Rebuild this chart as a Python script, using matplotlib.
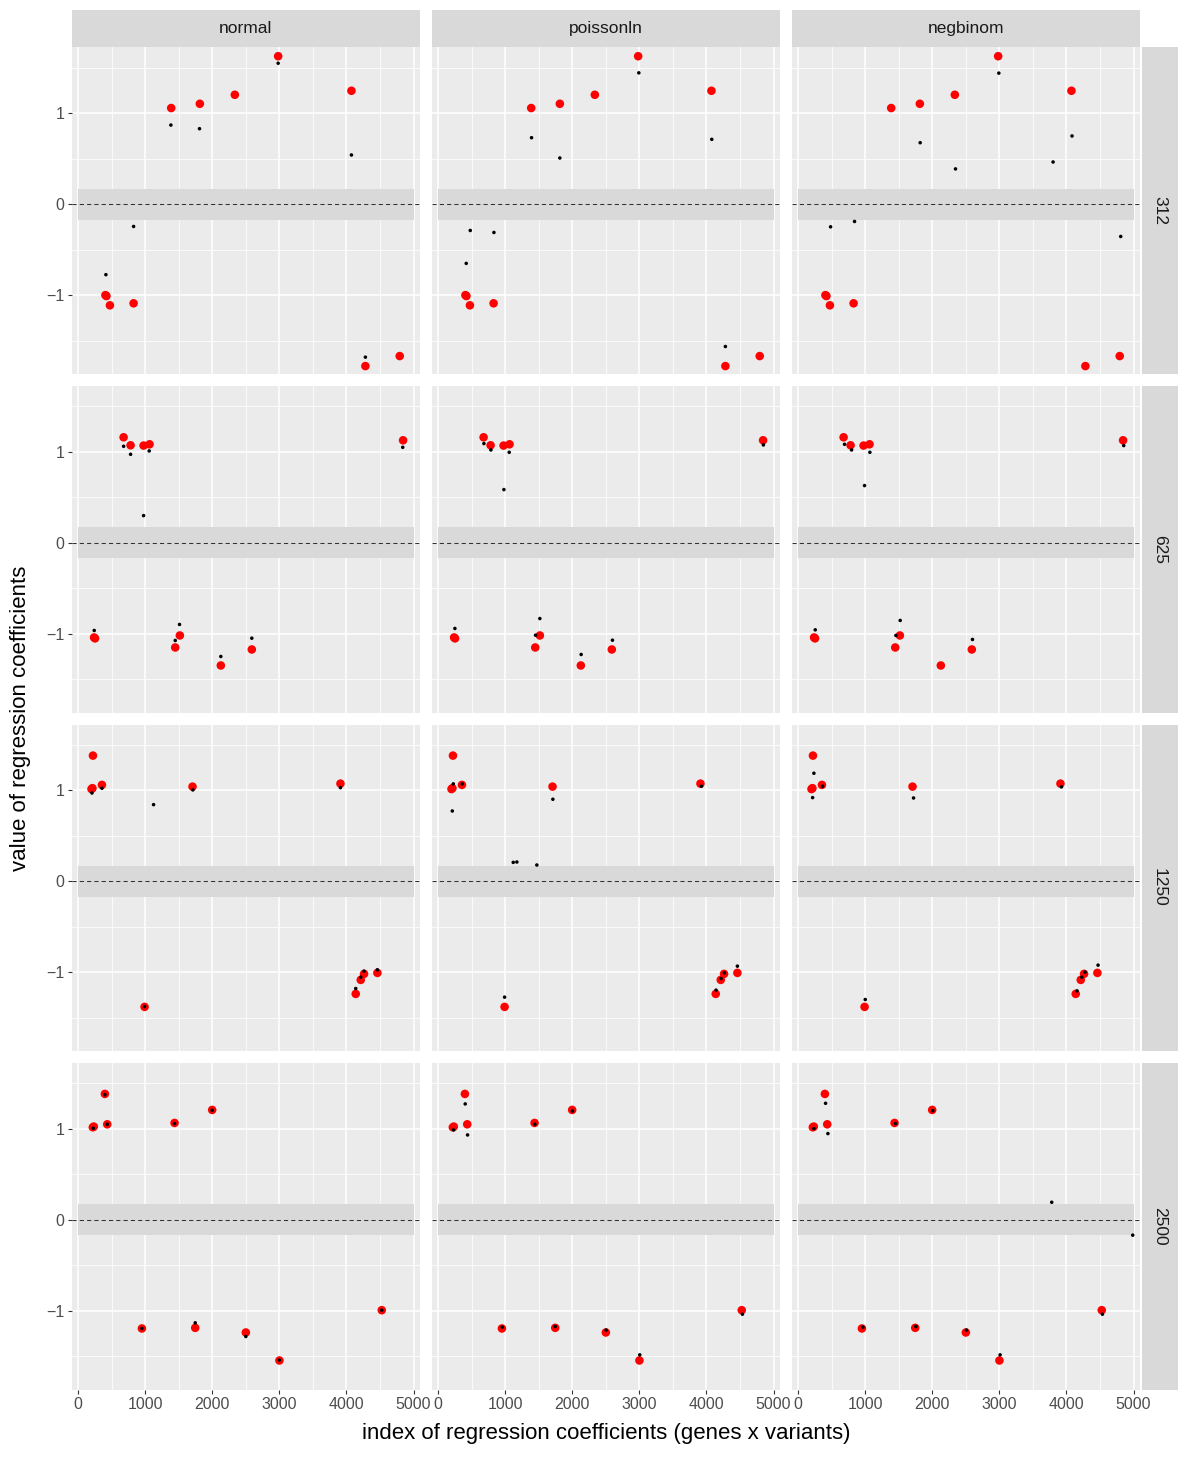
import matplotlib
matplotlib.use("Agg")
import matplotlib.pyplot as plt
from matplotlib.patches import Rectangle

plt.rcParams['font.family'] = ['Liberation Sans', 'DejaVu Sans']

# ---------------- data ----------------
columns = ["normal", "poissonln", "negbinom"]
rows = ["312", "625", "1250", "2500"]

x_ticks = [0, 1000, 2000, 3000, 4000, 5000]
y_ticks = [-1, 0, 1]
band_half_width = 0.17
n_coef = 5000

# true coefficients (red), one set per row
true_x_312 = [2981, 1386, 1813, 2335, 4074, 405, 420, 472, 825, 4282, 4794]
true_y_312 = [1.627, 1.057, 1.104, 1.203, 1.247, -1.000, -1.010, -1.112, -1.090, -1.780, -1.670]
true_x_625 = [676, 780, 974, 1063, 4844, 236, 250, 1515, 1446, 2126, 2588]
true_y_625 = [1.161, 1.073, 1.070, 1.084, 1.128, -1.040, -1.050, -1.018, -1.150, -1.348, -1.172]
true_x_1250 = [219, 197, 211, 353, 1704, 3910, 989, 4138, 4213, 4262, 4461]
true_y_1250 = [1.383, 1.015, 1.025, 1.061, 1.042, 1.075, -1.380, -1.237, -1.083, -1.017, -1.006]
true_x_2500 = [217, 231, 397, 432, 1436, 1997, 949, 1744, 2499, 3000, 4526]
true_y_2500 = [1.018, 1.026, 1.385, 1.051, 1.066, 1.209, -1.194, -1.187, -1.238, -1.546, -0.993]

# estimated coefficients (black), one set per panel
est_x_normal_312 = [2981, 1381, 1808, 4074, 825, 412, 4282]
est_y_normal_312 = [1.550, 0.870, 0.830, 0.541, -0.245, -0.775, -1.682]
est_x_poissonln_312 = [2991, 1391, 4079, 1813, 477, 830, 417, 4282]
est_y_poissonln_312 = [1.444, 0.731, 0.713, 0.508, -0.289, -0.311, -0.651, -1.565]
est_x_negbinom_312 = [2991, 4083, 1818, 3800, 2345, 839, 482, 4809]
est_y_negbinom_312 = [1.441, 0.750, 0.676, 0.464, 0.388, -0.190, -0.249, -0.355]

est_x_normal_625 = [676, 780, 1058, 974, 4839, 238, 1510, 1446, 2126, 2588]
est_y_normal_625 = [1.062, 0.974, 1.011, 0.300, 1.051, -0.963, -0.897, -1.073, -1.249, -1.048]
est_x_poissonln_625 = [681, 785, 1058, 979, 4849, 248, 1515, 1451, 2131, 2598]
est_y_poissonln_625 = [1.092, 1.022, 0.996, 0.586, 1.077, -0.941, -0.832, -1.015, -1.227, -1.070]
est_x_negbinom_625 = [690, 795, 1068, 988, 4854, 253, 1520, 1456, 2598]
est_y_negbinom_625 = [1.084, 1.022, 0.996, 0.630, 1.070, -0.956, -0.853, -1.018, -1.062]

est_x_normal_1250 = [204, 353, 1123, 1709, 3910, 989, 4138, 4213, 4262, 4461]
est_y_normal_1250 = [0.972, 1.024, 0.844, 1.006, 1.031, -1.376, -1.178, -1.053, -0.987, -0.972]
est_x_poissonln_1250 = [224, 358, 209, 1709, 1118, 1172, 1470, 3925, 989, 4143, 4218, 4267, 4461]
est_y_poissonln_1250 = [1.072, 1.072, 0.774, 0.903, 0.209, 0.213, 0.180, 1.046, -1.273, -1.196, -1.068, -1.006, -0.932]
est_x_negbinom_1250 = [233, 214, 363, 1719, 3925, 999, 4158, 4228, 4277, 4471]
est_y_negbinom_1250 = [1.189, 0.921, 1.046, 0.917, 1.039, -1.299, -1.204, -1.053, -0.998, -0.921]

est_x_normal_2500 = [224, 397, 432, 1436, 1997, 949, 1744, 2499, 3000, 4526]
est_y_normal_2500 = [1.007, 1.377, 1.051, 1.059, 1.205, -1.194, -1.132, -1.282, -1.542, -0.993]
est_x_poissonln_2500 = [229, 402, 437, 1441, 2002, 954, 1744, 2504, 3005, 4536]
est_y_poissonln_2500 = [0.989, 1.275, 0.934, 1.051, 1.198, -1.179, -1.172, -1.212, -1.484, -1.037]
est_x_negbinom_2500 = [234, 407, 442, 1451, 2007, 964, 1754, 2509, 3010, 4536, 3780, 4988]
est_y_negbinom_2500 = [1.004, 1.282, 0.949, 1.059, 1.201, -1.179, -1.172, -1.212, -1.484, -1.037, 0.194, -0.168]

true_sets = {
    "312": (true_x_312, true_y_312), "625": (true_x_625, true_y_625),
    "1250": (true_x_1250, true_y_1250), "2500": (true_x_2500, true_y_2500),
}
est_sets = {
    ("normal", "312"): (est_x_normal_312, est_y_normal_312),
    ("poissonln", "312"): (est_x_poissonln_312, est_y_poissonln_312),
    ("negbinom", "312"): (est_x_negbinom_312, est_y_negbinom_312),
    ("normal", "625"): (est_x_normal_625, est_y_normal_625),
    ("poissonln", "625"): (est_x_poissonln_625, est_y_poissonln_625),
    ("negbinom", "625"): (est_x_negbinom_625, est_y_negbinom_625),
    ("normal", "1250"): (est_x_normal_1250, est_y_normal_1250),
    ("poissonln", "1250"): (est_x_poissonln_1250, est_y_poissonln_1250),
    ("negbinom", "1250"): (est_x_negbinom_1250, est_y_negbinom_1250),
    ("normal", "2500"): (est_x_normal_2500, est_y_normal_2500),
    ("poissonln", "2500"): (est_x_poissonln_2500, est_y_poissonln_2500),
    ("negbinom", "2500"): (est_x_negbinom_2500, est_y_negbinom_2500),
}

# ---------------- layout ----------------
W, H = 1188, 1459
fig = plt.figure(figsize=(W / 100, H / 100), dpi=100)
fig.patch.set_facecolor("white")

col_left = [71.7, 431.7, 791.7]
col_w = 348.0
row_top = [47.3, 386.0, 724.5, 1063.0]
row_h = 326.5

panel_bg = "#EBEBEB"
strip_bg = "#D9D9D9"
tick_col = "#4D4D4D"
strip_fs = 12.5
tick_fs = 11.5
title_fs = 16.0

def frac_rect(x, y, w, h):
    return [x / W, 1 - (y + h) / H, w / W, h / H]

for ri, rname in enumerate(rows):
    for ci, cname in enumerate(columns):
        ax = fig.add_axes(frac_rect(col_left[ci], row_top[ri], col_w, row_h))
        ax.set_facecolor(panel_bg)
        for s in ax.spines.values():
            s.set_visible(False)
        ax.set_xlim(-98, 5092)
        ax.set_ylim(-1.865, 1.725)
        ax.set_xticks(x_ticks)
        ax.set_xticks([500, 1500, 2500, 3500, 4500], minor=True)
        ax.set_yticks(y_ticks)
        ax.set_yticks([-1.5, -0.5, 0.5, 1.5], minor=True)
        ax.grid(which="major", color="white", lw=1.1)
        ax.grid(which="minor", color="white", lw=0.55)
        ax.set_axisbelow(True)
        ax.tick_params(which="minor", length=0)
        ax.tick_params(which="major", length=2.9, width=0.8, color="#333333",
                       labelsize=tick_fs, labelcolor=tick_col, pad=2.5)
        if ci != 0:
            ax.tick_params(axis="y", which="major", length=0, labelleft=False)
        if ri != len(rows) - 1:
            ax.tick_params(axis="x", which="major", length=0, labelbottom=False)
        ax.set_yticklabels(["\u22121", "0", "1"] if ci == 0 else [])

        # band around zero
        ax.add_patch(Rectangle((0, -band_half_width), n_coef, 2 * band_half_width,
                               facecolor="#D9D9D9", edgecolor="none", zorder=1.5))
        ax.axhline(0, color="#333333", lw=0.75, ls=(0, (4, 3)), zorder=2)

        tx, ty = true_sets[rname]
        ax.scatter(tx, ty, s=38, color="#FF0000", edgecolors="none", zorder=3)
        ex, ey = est_sets[(cname, rname)]
        ax.scatter(ex, ey, s=6.5, color="black", edgecolors="none", zorder=4)

        if ri == 0:
            sax = fig.add_axes(frac_rect(col_left[ci], 10.0, col_w, 37.3))
            sax.set_facecolor(strip_bg)
            sax.set_xticks([]); sax.set_yticks([])
            for s in sax.spines.values():
                s.set_visible(False)
            sax.text(0.5, 0.5, cname, ha="center", va="center", fontsize=strip_fs,
                     color="#1A1A1A", transform=sax.transAxes)
        if ci == len(columns) - 1:
            rax = fig.add_axes(frac_rect(1141.5, row_top[ri], 36.0, row_h))
            rax.set_facecolor(strip_bg)
            rax.set_xticks([]); rax.set_yticks([])
            for s in rax.spines.values():
                s.set_visible(False)
            rax.text(0.5, 0.5, rname, ha="center", va="center", rotation=-90,
                     fontsize=strip_fs, color="#1A1A1A", transform=rax.transAxes)

fig.text(606 / W, 1 - 1433 / H, "index of regression coefficients (genes x variants)",
         ha="center", va="center", fontsize=title_fs, color="black")
fig.text(21 / W, 1 - 718 / H, "value of regression coefficients",
         ha="center", va="center", rotation=90, fontsize=title_fs, color="black")

fig.savefig("out.png", dpi=100, facecolor="white")
